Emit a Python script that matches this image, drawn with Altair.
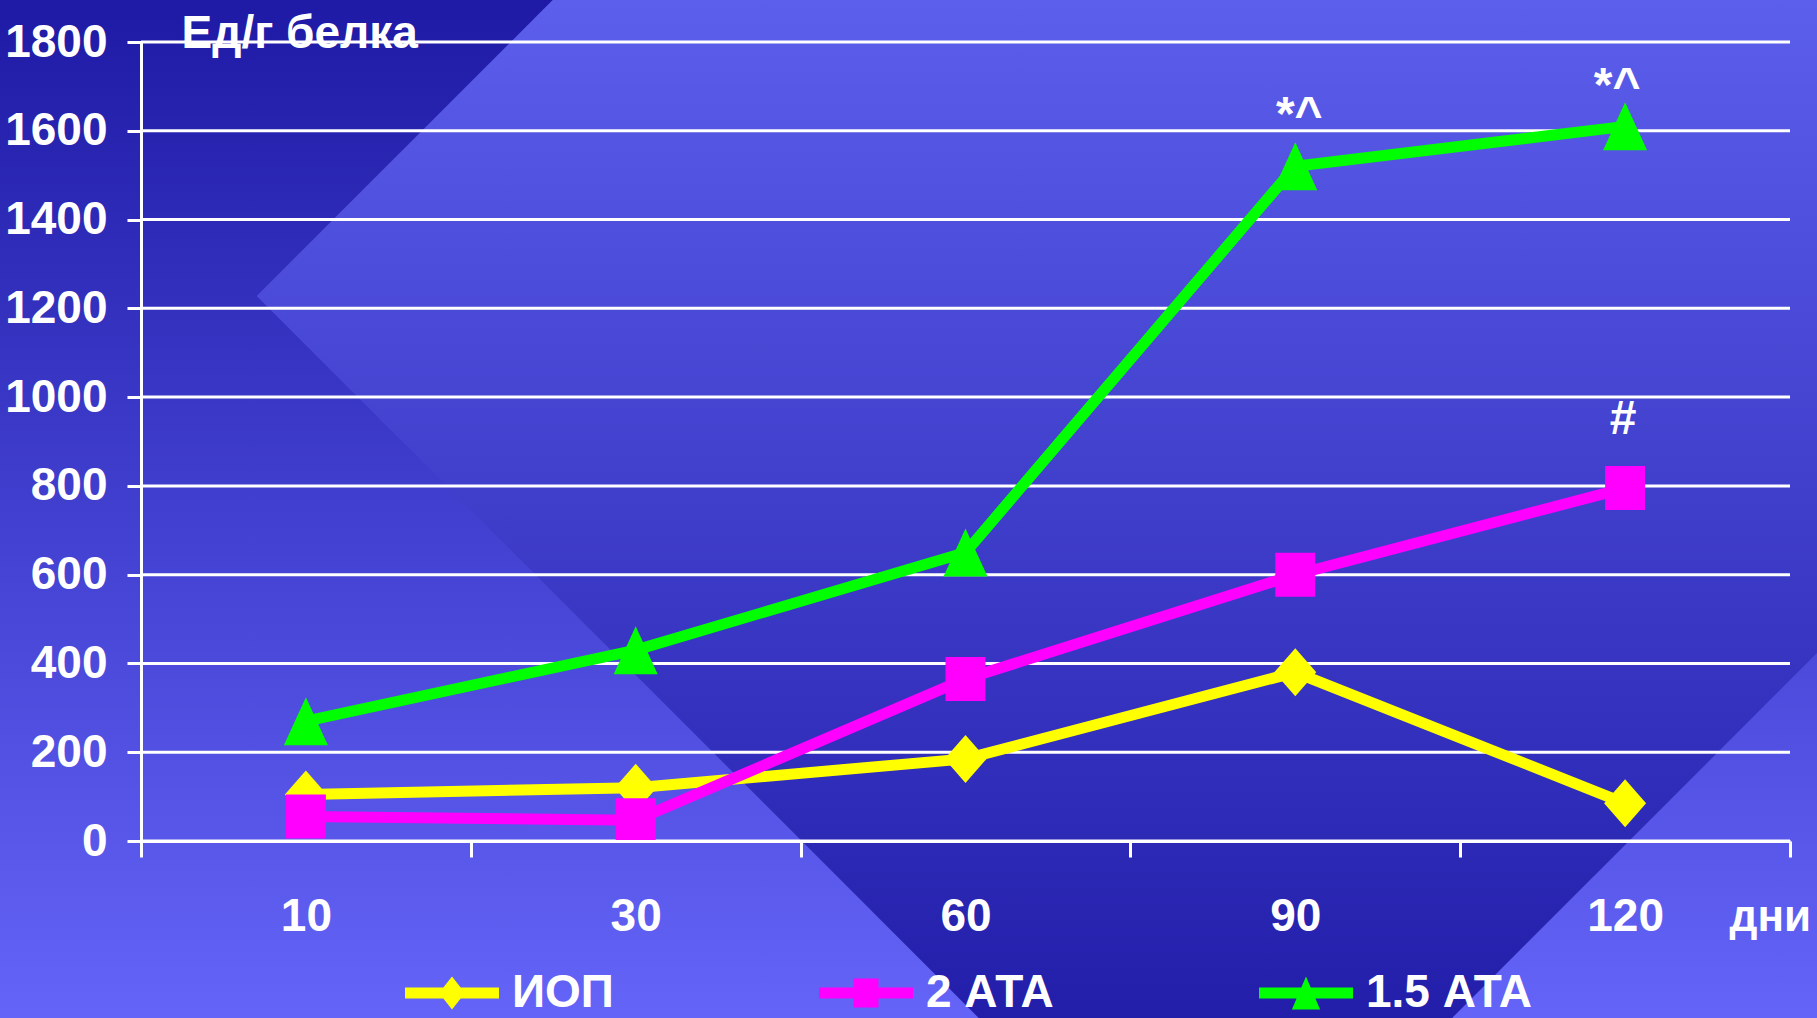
import altair as alt
import pandas as pd

# ---- data -----------------------------------------------------------------
days = ["10", "30", "60", "90", "120"]
series_names = ["ИОП", "2 АТА", "1.5 АТА"]
iop_values = [105, 120, 185, 380, 85]
ata2_values = [55, 47, 365, 600, 795]
ata15_values = [270, 430, 650, 1520, 1610]
y_ticks = [0, 200, 400, 600, 800, 1000, 1200, 1400, 1600, 1800]

note_series = ["1.5 АТА", "1.5 АТА", "2 АТА"]
note_days = ["90", "120", "120"]
note_labels = ["*^", "*^", "#"]

series_colors = ["#ffff00", "#ff00ff", "#00ff00"]

# ---- layout / style -------------------------------------------------------
FONT = "'Liberation Sans', Arial, sans-serif"
FS = 46
W, H = 1649, 799
PAD = {"left": 141, "top": 42, "right": 27, "bottom": 177}

values_by_series = dict(zip(series_names, [iop_values, ata2_values, ata15_values]))
df = pd.DataFrame(
    [
        {"day": d, "series": s, "value": v}
        for s in series_names
        for d, v in zip(days, values_by_series[s])
    ]
)
notes = pd.DataFrame({"series": note_series, "day": note_days, "label": note_labels})
notes["value"] = [values_by_series[s][days.index(d)] for s, d in zip(note_series, note_days)]

# marker outlines in unit coordinates (scaled by the symbol size)
marker_paths = {
    "ИОП": "M0,-1L0.875,0L0,1L-0.875,0Z",
    "2 АТА": "M-0.833,-0.917H0.833V0.917H-0.833Z",
    "1.5 АТА": "M0,-1L0.917,1L-0.917,1Z",
}
# legend keys: a short line segment with the marker in its middle
legend_paths = [
    "M-1,-0.117H1V0.117H-1Z M0,-0.351L0.277,0L0,0.351L-0.277,0Z",
    "M-1,-0.117H1V0.117H-1Z M-0.266,-0.309H0.266V0.309H-0.266Z",
    "M-1,-0.117H1V0.117H-1Z M0,-0.351L0.3,0.351L-0.3,0.351Z",
]

x_axis = alt.Axis(
    title="дни", titleX=1588, titleY=89, titleAlign="left", titleBaseline="alphabetic",
    titleFont=FONT, titleFontSize=44, titleFontWeight="bold", titleColor="white",
    labelAngle=0, labelFont=FONT, labelFontSize=FS, labelFontWeight="bold",
    labelColor="white", labelBaseline="alphabetic", labelPadding=73,
    tickBand="extent", tickSize=16, tickWidth=3, tickColor="white",
    domainColor="white", domainWidth=3, grid=False, zindex=1,
)
y_axis = alt.Axis(
    title="Ед/г белка", titleAngle=0, titleX=40, titleY=5, titleAlign="left",
    titleBaseline="alphabetic", titleFont=FONT, titleFontSize=FS,
    titleFontWeight="bold", titleColor="white",
    values=y_ticks, format="d", labelFont=FONT, labelFontSize=FS,
    labelFontWeight="bold", labelColor="white", labelPadding=20,
    tickSize=14, tickWidth=3, tickColor="white",
    domainColor="white", domainWidth=3, grid=False, zindex=1,
)

x_scale = alt.Scale(type="band", domain=days, paddingInner=0, paddingOuter=0)
y_scale = alt.Scale(domain=[0, 1800], nice=False, zero=True)
x_enc = alt.X("day:N", scale=x_scale, axis=x_axis)
y_enc = alt.Y("value:Q", scale=y_scale, axis=y_axis)

# ---- backdrop ---------------------------------------------------------------
one_row = pd.DataFrame({"k": [0]})
sky_fill = alt.LinearGradient(
    gradient="linear", x1=0, x2=0, y1=0, y2=1,
    stops=[alt.GradientStop(color="#1e1aa5", offset=0),
           alt.GradientStop(color="#6464f8", offset=1)],
)
sky = alt.Chart(one_row).mark_rect(fill=sky_fill, strokeWidth=0).encode(
    x=alt.value(-PAD["left"]), x2=alt.value(W + PAD["right"]),
    y=alt.value(-PAD["top"]), y2=alt.value(H + PAD["bottom"]),
)
rhomb_fill = alt.LinearGradient(
    gradient="linear", x1=0, x2=0, y1=0, y2=1,
    stops=[alt.GradientStop(color="#5c5eec", offset=0.3456),
           alt.GradientStop(color="#221eaa", offset=0.8766)],
)
rhomb = alt.Chart(one_row).mark_point(
    shape="M-1,0L0,-1L1,0L0,1Z", size=1917.4 ** 2, filled=True, opacity=1,
    fill=rhomb_fill, strokeOpacity=0,
).encode(x=alt.value(1074.4), y=alt.value(254))

# horizontal grid lines at the y tick values
grid = alt.Chart(pd.DataFrame({"value": y_ticks})).mark_rule(
    color="white", strokeWidth=3
).encode(y=y_enc)

# ---- series -----------------------------------------------------------------
series_layers = []
for name, color in zip(series_names, series_colors):
    sub = df[df["series"] == name]
    series_layers.append(
        alt.Chart(sub).mark_line(color=color, strokeWidth=11).encode(x=x_enc, y=y_enc)
    )
    series_layers.append(
        alt.Chart(sub).mark_point(
            shape=marker_paths[name], size=2304, filled=True, opacity=1,
            color=color, strokeWidth=0,
        ).encode(x=x_enc, y=y_enc)
    )

legend_def = alt.Legend(
    title=None, orient="none", legendX=264, legendY=904, direction="horizontal",
    labelFont=FONT, labelFontSize=FS, labelFontWeight="bold", labelColor="white",
    labelOffset=13, labelLimit=400, columnPadding=205, symbolSize=8836,
    symbolStrokeWidth=0, symbolOpacity=1, padding=0,
)
key = alt.Chart(df).mark_point(filled=True, opacity=0).encode(
    x=x_enc, y=y_enc,
    color=alt.Color("series:N", scale=alt.Scale(domain=series_names, range=series_colors),
                    legend=legend_def),
    shape=alt.Shape("series:N", scale=alt.Scale(domain=series_names, range=legend_paths),
                    legend=legend_def),
)

# ---- significance marks -----------------------------------------------------
note_layers = []
for i, (dx, dy) in enumerate([(4, -36), (-8, -25), (-2, -54)]):
    note_layers.append(
        alt.Chart(notes.iloc[[i]]).mark_text(
            font=FONT, fontSize=48, fontWeight="bold", color="white",
            align="center", baseline="alphabetic", dx=dx, dy=dy,
        ).encode(x=x_enc, y=y_enc, text="label:N")
    )

chart = (
    alt.layer(sky, rhomb, grid, *series_layers, key, *note_layers)
    .properties(
        width=W, height=H,
        autosize=alt.AutoSizeParams(type="none"),
        padding=PAD,
        background="#1e1aa5",
    )
    .configure_view(stroke=None)
)

chart.save("out.html", embed_options={"renderer": "svg", "actions": False})
